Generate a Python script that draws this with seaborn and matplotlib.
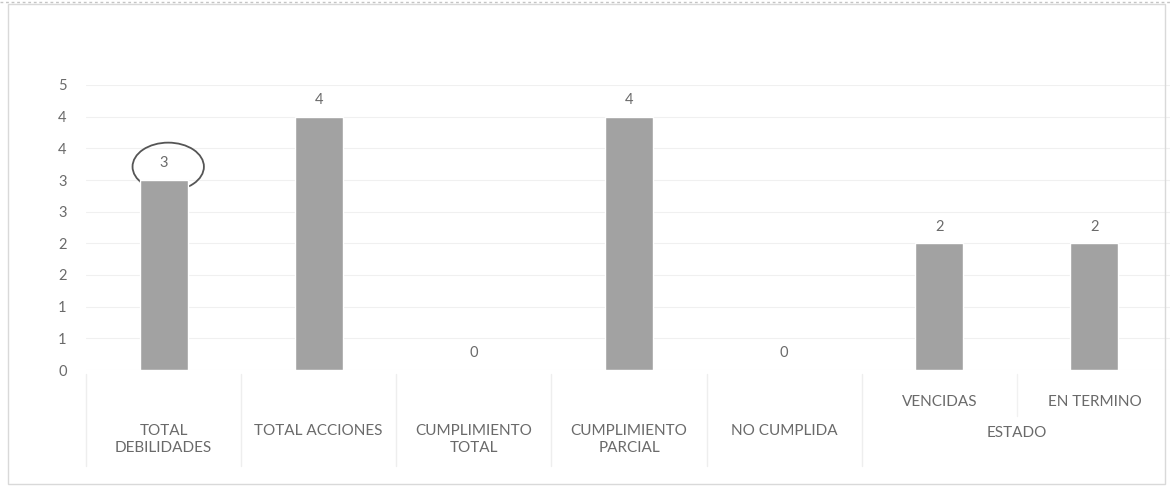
import matplotlib
matplotlib.use("Agg")
import matplotlib.pyplot as plt
from matplotlib.patches import Ellipse, Rectangle
from matplotlib.lines import Line2D
import matplotlib.transforms as mtrans
import seaborn as sns
import pandas as pd

# ---- data ----
categories = ["TOTAL\nDEBILIDADES", "TOTAL ACCIONES", "CUMPLIMIENTO\nTOTAL",
              "CUMPLIMIENTO\nPARCIAL", "NO CUMPLIDA", "VENCIDAS", "EN TERMINO"]
values = [3, 4, 0, 4, 0, 2, 2]
group_label = "ESTADO"
group_members = ["VENCIDAS", "EN TERMINO"]
ytick_values = [0, 0.5, 1, 1.5, 2, 2.5, 3, 3.5, 4, 4.5]
ytick_labels = ["0", "1", "1", "2", "2", "3", "3", "4", "4", "5"]
highlighted = "TOTAL\nDEBILIDADES"

sns.set_theme(style="white")
plt.rcParams["font.family"] = ["Lato", "DejaVu Sans"]

TEXT = "#6a6a6a"
BAR = "#a2a2a2"
W, H = 1170, 490

fig = plt.figure(figsize=(11.7, 4.9), dpi=100)
fig.patch.set_facecolor("white")

def fy(px):
    return 1 - px / H

ax = fig.add_axes([86 / W, fy(370), (1172 - 86) / W, 285 / H])

df = pd.DataFrame({"cat": categories, "val": values})
sns.barplot(data=df, x="cat", y="val", color=BAR, width=0.31,
            saturation=1, ax=ax, zorder=2, order=categories)

ax.set_ylim(0, 4.5)
ax.set_xlim(-0.5, len(categories) - 0.5)
ax.set_yticks(ytick_values)
ax.set_yticklabels(ytick_labels)
ax.tick_params(axis="y", length=0, pad=14, labelsize=10.5, labelcolor=TEXT)
ax.set_xticks([])
ax.set_xlabel("")
ax.set_ylabel("")
for s in ax.spines.values():
    s.set_visible(False)
ax.grid(axis="y", color="#f0f0f0", lw=0.8, zorder=0)
ax.set_axisbelow(True)

ax.bar_label(ax.containers[0], fmt="%g", padding=7, fontsize=10.5, color=TEXT)

# hand-drawn style circle around highlighted label
hi = categories.index(highlighted)
ax.add_patch(Ellipse((hi + 0.03, values[hi] + 0.21), 0.46, 0.76, fill=False,
                     edgecolor="#555555", lw=1.3, zorder=1))

# category labels (multi-level axis)
tr = mtrans.blended_transform_factory(ax.transData, fig.transFigure)
member_idx = [categories.index(m) for m in group_members]
for i, c in enumerate(categories):
    if c in group_members:
        ax.text(i, fy(402), c, transform=tr, ha="center", va="center",
                fontsize=11, color=TEXT)
    else:
        ax.text(i, fy(424), c, transform=tr, ha="center", va="top",
                fontsize=11, color=TEXT, linespacing=1.3)
gx = sum(member_idx) / len(member_idx)
ax.text(gx, fy(426), group_label, transform=tr, ha="center", va="top",
        fontsize=11, color=TEXT)

# faint divider lines
for b in [-0.5, 0.5, 1.5, 2.5, 3.5, 4.5]:
    fig.add_artist(Line2D([b, b], [fy(374), fy(466)], transform=tr,
                          color="#eeeeee", lw=1))
fig.add_artist(Line2D([5.5, 5.5], [fy(374), fy(416)], transform=tr,
                      color="#f1f1f1", lw=1))

# chart border
fig.add_artist(Rectangle((8 / W, fy(484)), (1165 - 8) / W, (484 - 4) / H,
                         transform=fig.transFigure, fill=False,
                         edgecolor="#d9d9d9", lw=1))
fig.add_artist(Line2D([0, 1], [fy(2), fy(2)], transform=fig.transFigure,
                      color="#c4c4c4", lw=1, ls=(0, (2, 2))))

fig.savefig("out.png", dpi=100)
